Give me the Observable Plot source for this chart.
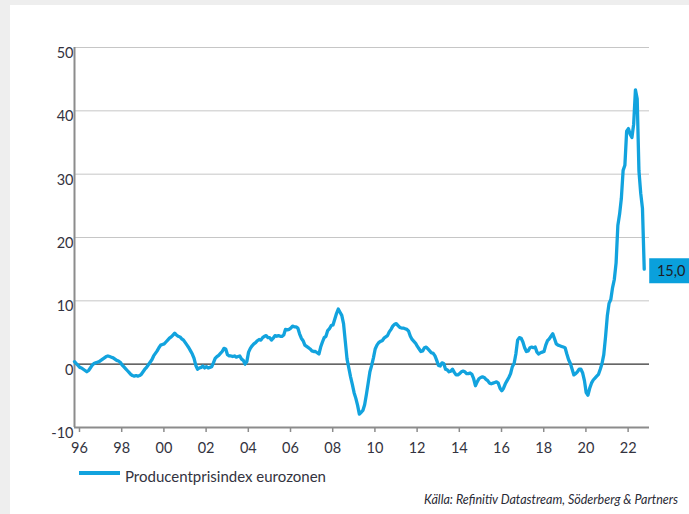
<!DOCTYPE html>
<html>
<head>
<meta charset="utf-8">
<script src="https://cdn.jsdelivr.net/npm/d3@7"></script>
<script src="https://cdn.jsdelivr.net/npm/@observablehq/plot@0.6"></script>
<style>
  html, body { margin: 0; padding: 0; background: #eeeeee; width: 689px; height: 514px; overflow: hidden; }
  #panel { position: absolute; left: 10px; top: 5px; width: 679px; height: 509px; background: #ffffff; }
  #chart { position: absolute; left: 0; top: 0; }
  .legend { position: absolute; left: 69px; top: 462px; font-family: Lato, "Open Sans", sans-serif; font-size: 15px; color: #333340; white-space: nowrap; }
  .legend .swatch { display: inline-block; width: 41px; height: 4px; background: #12a3de; vertical-align: middle; margin-right: 5px; position: relative; top: -5px; }
  .source { position: absolute; right: 11px; top: 487px; font-family: Lato, "Open Sans", sans-serif; font-style: italic; font-size: 12.5px; color: #2a2a35; white-space: nowrap; }
</style>
</head>
<body>
<div id="panel">
  <div id="chart"></div>
  <div class="legend"><span class="swatch"></span><span id="legendText"></span></div>
  <div class="source" id="sourceText"></div>
</div>
<script>
// ---- Data ----
const seriesName = "Producentprisindex eurozonen";
const sourceText = "Källa: Refinitiv Datastream, Söderberg & Partners";
const startYear = 1996;           // first month: Jan 1996, monthly observations
const xTicks = [1996, 1998, 2000, 2002, 2004, 2006, 2008, 2010, 2012, 2014, 2016, 2018, 2020, 2022];
const xTickLabels = ["96", "98", "00", "02", "04", "06", "08", "10", "12", "14", "16", "18", "20", "22"];
const yTicks = [-10, 0, 10, 20, 30, 40, 50];
const lastLabel = "15,0";

// Euro area PPI, y/y %, monthly Jan 1996 – Jan 2023
const ppi = [
  // 1996
  0.4, 0.1, -0.2, -0.5, -0.6, -0.8, -1.0, -1.2, -1.0, -0.6, -0.2, 0.1,
  // 1997
  0.2, 0.3, 0.4, 0.6, 0.8, 1.0, 1.2, 1.3, 1.2, 1.1, 1.0, 0.8,
  // 1998
  0.6, 0.5, 0.3, -0.1, -0.4, -0.7, -1.0, -1.3, -1.6, -1.8, -1.9, -1.8,
  // 1999
  -1.9, -1.8, -1.6, -1.2, -0.8, -0.5, -0.1, 0.3, 0.7, 1.3, 1.7, 2.1,
  // 2000
  2.6, 3.0, 3.1, 3.2, 3.5, 3.8, 4.1, 4.3, 4.6, 4.9, 4.6, 4.4,
  // 2001
  4.3, 4.0, 3.8, 3.4, 3.0, 2.6, 2.1, 1.6, 0.9, -0.2, -0.8, -0.6,
  // 2002
  -0.5, -0.3, -0.6, -0.4, -0.6, -0.5, -0.4, 0.2, 0.9, 1.2, 1.4, 1.7,
  // 2003
  2.0, 2.5, 2.4, 1.5, 1.3, 1.3, 1.2, 1.3, 1.1, 1.2, 1.3, 0.8,
  // 2004
  0.6, 0.0, 0.4, 1.9, 2.5, 2.9, 3.2, 3.4, 3.7, 3.9, 3.8, 4.2,
  // 2005
  4.4, 4.5, 4.2, 4.2, 3.8, 4.1, 4.5, 4.4, 4.5, 4.4, 4.4, 4.6,
  // 2006
  5.5, 5.4, 5.5, 5.7, 6.0, 5.9, 5.9, 5.7, 4.8, 4.1, 3.7, 3.0,
  // 2007
  2.8, 2.6, 2.4, 2.1, 2.0, 2.0, 1.8, 1.6, 2.7, 3.5, 4.2, 4.4,
  // 2008
  5.3, 5.6, 6.1, 6.2, 7.1, 8.0, 8.7, 8.2, 7.7, 6.4, 3.6, 0.8,
  // 2009
  -0.6, -2.0, -3.2, -4.5, -5.4, -6.5, -7.9, -7.6, -7.3, -6.4, -4.8, -3.0,
  // 2010
  -1.2, -0.2, 1.0, 2.4, 3.0, 3.4, 3.6, 3.7, 4.1, 4.3, 4.5, 5.1,
  // 2011
  5.5, 6.0, 6.3, 6.4, 6.1, 5.8, 5.7, 5.7, 5.6, 5.5, 5.2, 4.4,
  // 2012
  3.9, 3.6, 3.3, 2.8, 2.4, 2.0, 2.1, 2.6, 2.7, 2.4, 2.1, 1.8,
  // 2013
  1.7, 1.3, 0.6, -0.2, -0.3, 0.2, 0.1, -0.8, -0.9, -1.2, -1.1, -0.8,
  // 2014
  -1.3, -1.7, -1.7, -1.5, -1.2, -1.1, -1.2, -1.5, -1.5, -1.4, -1.6, -2.3,
  // 2015
  -3.4, -2.8, -2.3, -2.1, -2.0, -2.1, -2.4, -2.6, -3.0, -3.1, -3.0, -2.9,
  // 2016
  -2.8, -3.0, -3.8, -4.2, -3.8, -3.1, -2.6, -2.1, -1.5, -0.4, 0.1, 1.6,
  // 2017
  3.8, 4.2, 4.1, 3.5, 2.6, 2.0, 2.1, 2.6, 2.7, 2.6, 2.7, 1.9,
  // 2018
  1.6, 1.8, 1.9, 2.0, 3.0, 3.7, 4.0, 4.4, 4.8, 4.0, 3.2, 3.0,
  // 2019
  2.9, 2.8, 2.7, 2.6, 1.6, 0.7, 0.1, -0.8, -1.7, -1.5, -1.2, -0.8,
  // 2020
  -0.8, -1.4, -2.6, -4.5, -4.9, -3.8, -3.0, -2.5, -2.2, -1.9, -1.6, -0.8,
  // 2021
  0.1, 1.5, 4.3, 7.6, 9.6, 10.2, 12.1, 13.4, 16.0, 21.9, 23.7, 26.2,
  // 2022
  30.6, 31.4, 36.8, 37.2, 36.3, 35.8, 37.9, 43.3, 41.9, 30.5, 27.0, 24.6,
  // 2023
  15.0
];

// ---- Build table ----
const data = ppi.map((v, i) => ({ t: startYear + i / 12, v }));
const last = data[data.length - 1];

const blue = "#12a3de";
const labelBlue = "#0aa0dc";
const axisGray = "#8c8c8c";
const textColor = "#333340";
const font = "Lato, 'Open Sans', sans-serif";

// rectangle symbol for the end-value label
const boxSymbol = {
  draw(ctx, size) { ctx.rect(-21, -12.5, 42, 25); }
};

const chart = Plot.plot({
  width: 679,
  height: 452,
  marginLeft: 64,
  marginRight: 40,
  marginTop: 42,
  marginBottom: 30,
  style: { fontFamily: font, fontSize: "14px", color: textColor, background: "transparent", overflow: "visible" },
  x: { domain: [1996, 2023.25], label: null },
  y: { domain: [-10, 50], label: null },
  marks: [
    Plot.gridY([10, 20, 30, 40, 50], { stroke: "#c6c6c6", strokeOpacity: 1, strokeWidth: 1 }),
    Plot.ruleY([0], { stroke: "#333333", strokeWidth: 1.2 }),
    Plot.axisY(yTicks, {
      tickSize: 0, tickPadding: 1, dy: 6, fontSize: 14.5, fill: textColor,
      tickFormat: d => String(d), label: null
    }),
    Plot.axisX(xTicks, {
      tickSize: 5, tickPadding: 10, dx: 5, fontSize: 14.5, fill: textColor, stroke: axisGray, strokeWidth: 1.5,
      tickFormat: d => xTickLabels[xTicks.indexOf(d)], label: null
    }),
    Plot.ruleY([-10], { stroke: axisGray, strokeWidth: 2 }),
    Plot.ruleX([1996], { stroke: axisGray, strokeWidth: 2 }),
    Plot.line(data, { x: "t", y: "v", stroke: blue, strokeWidth: 3.3, strokeLinejoin: "round", strokeLinecap: "round" }),
    Plot.dot([last], { x: "t", y: "v", symbol: boxSymbol, fill: labelBlue, stroke: "none", dx: 26, dy: 1.5, r: 10 }),
    Plot.text([last], { x: "t", y: "v", text: () => lastLabel, dx: 27, dy: 2, fontSize: 14.5, fill: "#1d1d28", textAnchor: "middle" })
  ]
});
document.getElementById("chart").appendChild(chart);
document.getElementById("legendText").textContent = seriesName;
document.getElementById("sourceText").textContent = sourceText;
</script>
</body>
</html>
